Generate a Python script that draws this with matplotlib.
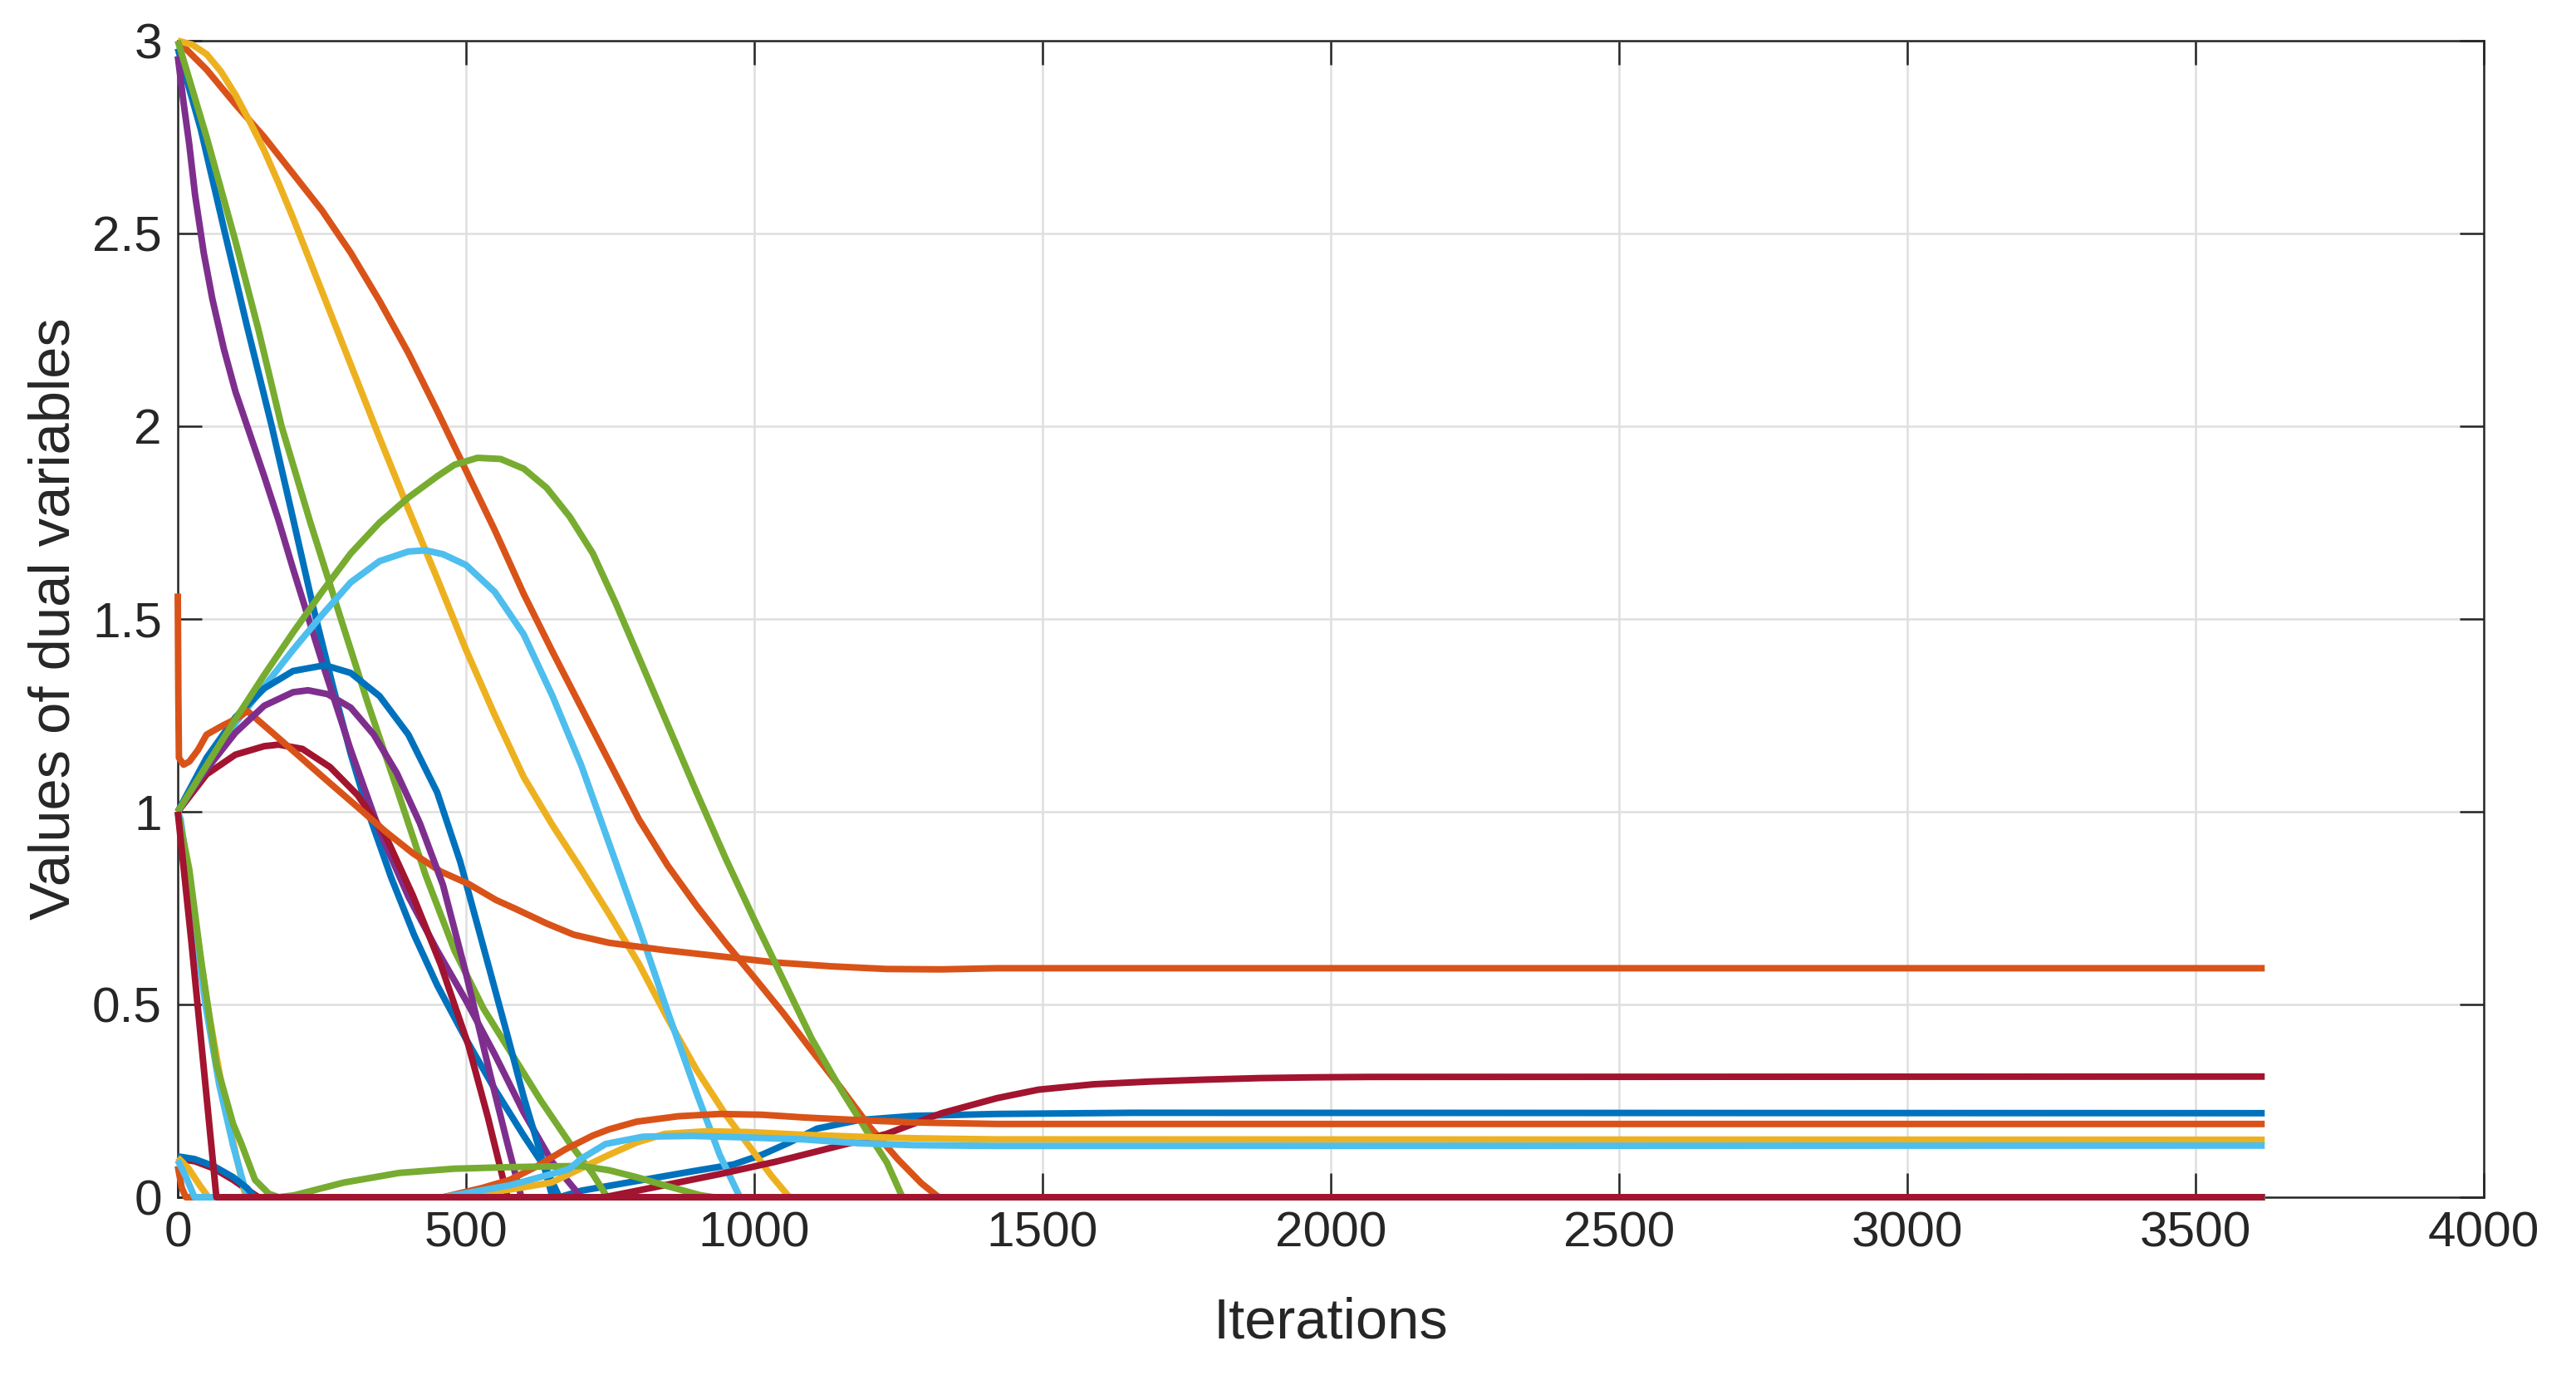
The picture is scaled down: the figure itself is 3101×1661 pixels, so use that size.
import numpy as np
import matplotlib.pyplot as plt

plt.rcParams['font.family'] = ['Liberation Sans', 'DejaVu Sans']

# MATLAB default colour order
BLUE = '#0072BD'
ORANGE = '#D95319'
YELLOW = '#EDB120'
PURPLE = '#7E2F8E'
GREEN = '#77AC30'
LBLUE = '#4DBEEE'
DRED = '#A2142F'

LAST_ITER = 3620

# values (iteration, dual value)
top_blue_x = [0, 40, 82, 120, 163, 200, 235, 270, 300, 330, 370, 410, 450, 500, 550, 600, 640, 662, 680, 700, 796, 892, 964, 1013, 1061, 1109, 1181, 1277, 1421, 1656, LAST_ITER]
top_blue_y = [2.98, 2.77, 2.5, 2.26, 2.0, 1.76, 1.53, 1.32, 1.15, 1.0, 0.83, 0.68, 0.55, 0.41, 0.28, 0.16, 0.07, 0.0, 0.008, 0.017, 0.042, 0.067, 0.085, 0.11, 0.142, 0.178, 0.2, 0.211, 0.216, 0.219, 0.218]

top_orange_x = [0, 50, 100, 150, 200, 250, 300, 350, 400, 450, 500, 550, 600, 650, 700, 750, 800, 850, 900, 950, 1000, 1050, 1100, 1150, 1200, 1250, 1290, 1320, LAST_ITER]
top_orange_y = [3.0, 2.925, 2.835, 2.75, 2.655, 2.56, 2.45, 2.325, 2.19, 2.04, 1.885, 1.73, 1.565, 1.415, 1.27, 1.125, 0.98, 0.86, 0.756, 0.66, 0.57, 0.478, 0.38, 0.284, 0.183, 0.097, 0.036, 0.0, 0.0]

top_yellow_x = [0, 25, 50, 75, 100, 125, 150, 175, 200, 250, 300, 350, 400, 450, 500, 550, 600, 650, 700, 750, 800, 850, 900, 950, 1000, 1030, 1061, LAST_ITER]
top_yellow_y = [3.0, 2.99, 2.965, 2.92, 2.86, 2.79, 2.715, 2.63, 2.54, 2.35, 2.16, 1.97, 1.785, 1.605, 1.42, 1.25, 1.09, 0.965, 0.85, 0.73, 0.605, 0.463, 0.33, 0.215, 0.115, 0.055, 0.0, 0.0]

top_purple_x = [0, 10, 20, 30, 45, 60, 80, 100, 125, 150, 175, 200, 250, 300, 350, 400, 450, 500, 550, 600, 650, 700, LAST_ITER]
top_purple_y = [2.96, 2.84, 2.73, 2.6, 2.45, 2.33, 2.2, 2.09, 1.98, 1.87, 1.755, 1.63, 1.39, 1.16, 0.95, 0.78, 0.64, 0.51, 0.37, 0.22, 0.09, 0.0, 0.0]

top_green_x = [0, 50, 100, 140, 180, 230, 283, 330, 380, 430, 480, 530, 580, 630, 680, 720, 745, LAST_ITER]
top_green_y = [3.0, 2.75, 2.48, 2.25, 2.0, 1.75, 1.5, 1.28, 1.06, 0.835, 0.64, 0.49, 0.37, 0.25, 0.14, 0.06, 0.0, 0.0]

bump_lblue_x = [0, 50, 100, 150, 200, 250, 300, 350, 400, 430, 460, 500, 550, 600, 650, 700, 750, 800, 850, 900, 940, 975, LAST_ITER]
bump_lblue_y = [1.0, 1.12, 1.23, 1.325, 1.42, 1.51, 1.595, 1.65, 1.675, 1.678, 1.668, 1.64, 1.57, 1.46, 1.3, 1.12, 0.91, 0.7, 0.48, 0.27, 0.11, 0.0, 0.0]

bump_green_x = [0, 50, 100, 150, 200, 250, 300, 350, 400, 450, 480, 520, 560, 600, 640, 680, 720, 760, 800, 850, 900, 950, 1000, 1050, 1100, 1150, 1200, 1230, 1257, LAST_ITER]
bump_green_y = [1.0, 1.12, 1.24, 1.355, 1.465, 1.57, 1.67, 1.75, 1.815, 1.87, 1.9, 1.918, 1.915, 1.89, 1.84, 1.765, 1.67, 1.54, 1.4, 1.225, 1.05, 0.88, 0.72, 0.565, 0.41, 0.28, 0.16, 0.09, 0.0, 0.0]

bump_blue_x = [0, 50, 100, 150, 200, 255, 300, 350, 400, 450, 490, 530, 570, 600, 630, 650, LAST_ITER]
bump_blue_y = [1.0, 1.14, 1.245, 1.32, 1.365, 1.38, 1.36, 1.3, 1.2, 1.05, 0.87, 0.65, 0.43, 0.26, 0.11, 0.0, 0.0]

bump_purple_x = [0, 50, 100, 150, 200, 226, 260, 300, 340, 380, 420, 460, 500, 540, 570, 596, LAST_ITER]
bump_purple_y = [1.0, 1.11, 1.205, 1.275, 1.31, 1.315, 1.305, 1.27, 1.2, 1.1, 0.97, 0.81, 0.58, 0.33, 0.15, 0.0, 0.0]

bump_dred_x = [0, 50, 100, 150, 175, 216, 264, 312, 360, 408, 456, 504, 538, 572, 740, 844, 940, 1037, 1133, 1229, 1325, 1421, 1493, 1589, 1685, 1781, 1877, 1973, 2069, LAST_ITER]
bump_dred_y = [1.0, 1.097, 1.148, 1.17, 1.174, 1.163, 1.116, 1.043, 0.939, 0.782, 0.604, 0.395, 0.207, 0.0, 0.0, 0.031, 0.06, 0.092, 0.128, 0.164, 0.218, 0.257, 0.279, 0.293, 0.3, 0.305, 0.309, 0.311, 0.312, 0.313]

mid_orange_x = [0, 1, 2, 10, 20, 35, 50, 76, 100, 121, 168, 216, 264, 312, 360, 408, 456, 504, 552, 586, 640, 687, 748, 844, 940, 1037, 1133, 1229, 1325, 1421, LAST_ITER]
mid_orange_y = [1.566, 1.30, 1.14, 1.122, 1.13, 1.16, 1.2, 1.222, 1.24, 1.261, 1.2, 1.137, 1.074, 1.012, 0.949, 0.892, 0.845, 0.813, 0.771, 0.748, 0.71, 0.681, 0.66, 0.641, 0.625, 0.609, 0.599, 0.592, 0.591, 0.594, 0.594]

quick_lblue_x = [0, 5, 29, 48, 72, 96, 115, 122, LAST_ITER]
quick_lblue_y = [1.0, 0.98, 0.709, 0.5, 0.291, 0.134, 0.03, 0.0, 0.0]

quick_yellow_x = [0, 30, 50, 75, 95, 110, 118, LAST_ITER]
quick_yellow_y = [1.0, 0.72, 0.51, 0.3, 0.15, 0.05, 0.0, 0.0]

quick_green_x = [0, 20, 40, 67, 96, 110, 134, 158, 175, 202, 288, 384, 480, 576, 650, 700, 748, 796, 844, 907, 930, LAST_ITER]
quick_green_y = [1.0, 0.85, 0.62, 0.345, 0.19, 0.14, 0.045, 0.009, 0.0, 0.005, 0.038, 0.063, 0.074, 0.078, 0.08, 0.081, 0.07, 0.052, 0.031, 0.005, 0.0, 0.0]

small_dred_x = [0, 30, 62, 96, 125, 140, LAST_ITER]
small_dred_y = [0.1, 0.093, 0.075, 0.045, 0.015, 0.0, 0.0]

small_blue_x = [0, 29, 62, 96, 120, 134, LAST_ITER]
small_blue_y = [0.106, 0.099, 0.081, 0.052, 0.024, 0.0, 0.0]

small_orange_x = [0, 7, 14, 460, 528, 576, 624, 672, 700, 720, 748, 796, 868, 940, 1013, 1085, 1181, 1277, 1421, LAST_ITER]
small_orange_y = [0.081, 0.024, 0.0, 0.0, 0.024, 0.045, 0.081, 0.124, 0.145, 0.16, 0.176, 0.196, 0.21, 0.216, 0.214, 0.207, 0.2, 0.194, 0.19, 0.19]

small_yellow_x = [0, 19, 38, 53, 480, 576, 648, 700, 720, 748, 796, 844, 916, 989, 1085, 1181, 1277, 1421, LAST_ITER]
small_yellow_y = [0.103, 0.074, 0.031, 0.0, 0.0, 0.02, 0.038, 0.075, 0.09, 0.11, 0.142, 0.164, 0.171, 0.169, 0.162, 0.157, 0.153, 0.15, 0.149]

small_lblue_x = [0, 15, 29, 461, 576, 648, 679, 700, 742, 807, 892, 989, 1085, 1181, 1277, 1421, LAST_ITER]
small_lblue_y = [0.096, 0.05, 0.0, 0.0, 0.031, 0.06, 0.073, 0.1, 0.138, 0.157, 0.159, 0.155, 0.15, 0.14, 0.135, 0.133, 0.134]

zero_dred_x = [0, 24, 48, 67, LAST_ITER]
zero_dred_y = [1.0, 0.657, 0.291, 0.0, 0.0]


series = [
    (small_dred_x, small_dred_y, DRED),
    (top_blue_x, top_blue_y, BLUE),
    (top_orange_x, top_orange_y, ORANGE),
    (top_yellow_x, top_yellow_y, YELLOW),
    (top_purple_x, top_purple_y, PURPLE),
    (top_green_x, top_green_y, GREEN),
    (bump_lblue_x, bump_lblue_y, LBLUE),
    (bump_dred_x, bump_dred_y, DRED),
    (bump_blue_x, bump_blue_y, BLUE),
    (mid_orange_x, mid_orange_y, ORANGE),
    (quick_yellow_x, quick_yellow_y, YELLOW),
    (bump_purple_x, bump_purple_y, PURPLE),
    (bump_green_x, bump_green_y, GREEN),
    (quick_lblue_x, quick_lblue_y, LBLUE),
    (small_blue_x, small_blue_y, BLUE),
    (small_orange_x, small_orange_y, ORANGE),
    (small_yellow_x, small_yellow_y, YELLOW),
    (quick_green_x, quick_green_y, GREEN),
    (small_lblue_x, small_lblue_y, LBLUE),
    (zero_dred_x, zero_dred_y, DRED),
]

fig = plt.figure(figsize=(3101 / 300, 1661 / 300), dpi=300)
ax = fig.add_axes([214 / 3101, 1 - 1441 / 1661, (2990 - 214) / 3101, (1441 - 49) / 1661])

for xs, ys, col in series:
    ax.plot(xs, ys, color=col, linewidth=1.9, zorder=3, clip_on=False,
            solid_capstyle='butt', solid_joinstyle='round')

ax.set_xlim(0, 4000)
ax.set_ylim(0, 3)
ax.set_xticks(np.arange(0, 4001, 500))
ax.set_yticks([0, 0.5, 1, 1.5, 2, 2.5, 3])
ax.set_yticklabels(['0', '0.5', '1', '1.5', '2', '2.5', '3'])

ax.grid(True, color='#dfdfdf', linewidth=0.6)
ax.set_axisbelow(True)
for sp in ax.spines.values():
    sp.set_color('#262626')
    sp.set_linewidth(0.6)
ax.tick_params(direction='in', length=7, width=0.6, colors='#262626',
               top=True, right=True, labelsize=14.5)
ax.tick_params(axis='x', pad=4)
ax.tick_params(axis='y', pad=4.6)

ax.set_xlabel('Iterations', fontsize=16.5, color='#262626', labelpad=11.5)
ax.set_ylabel('Values of dual variables', fontsize=16.5, color='#262626', labelpad=3.2)

fig.savefig('out.png', dpi=300, facecolor='white')
